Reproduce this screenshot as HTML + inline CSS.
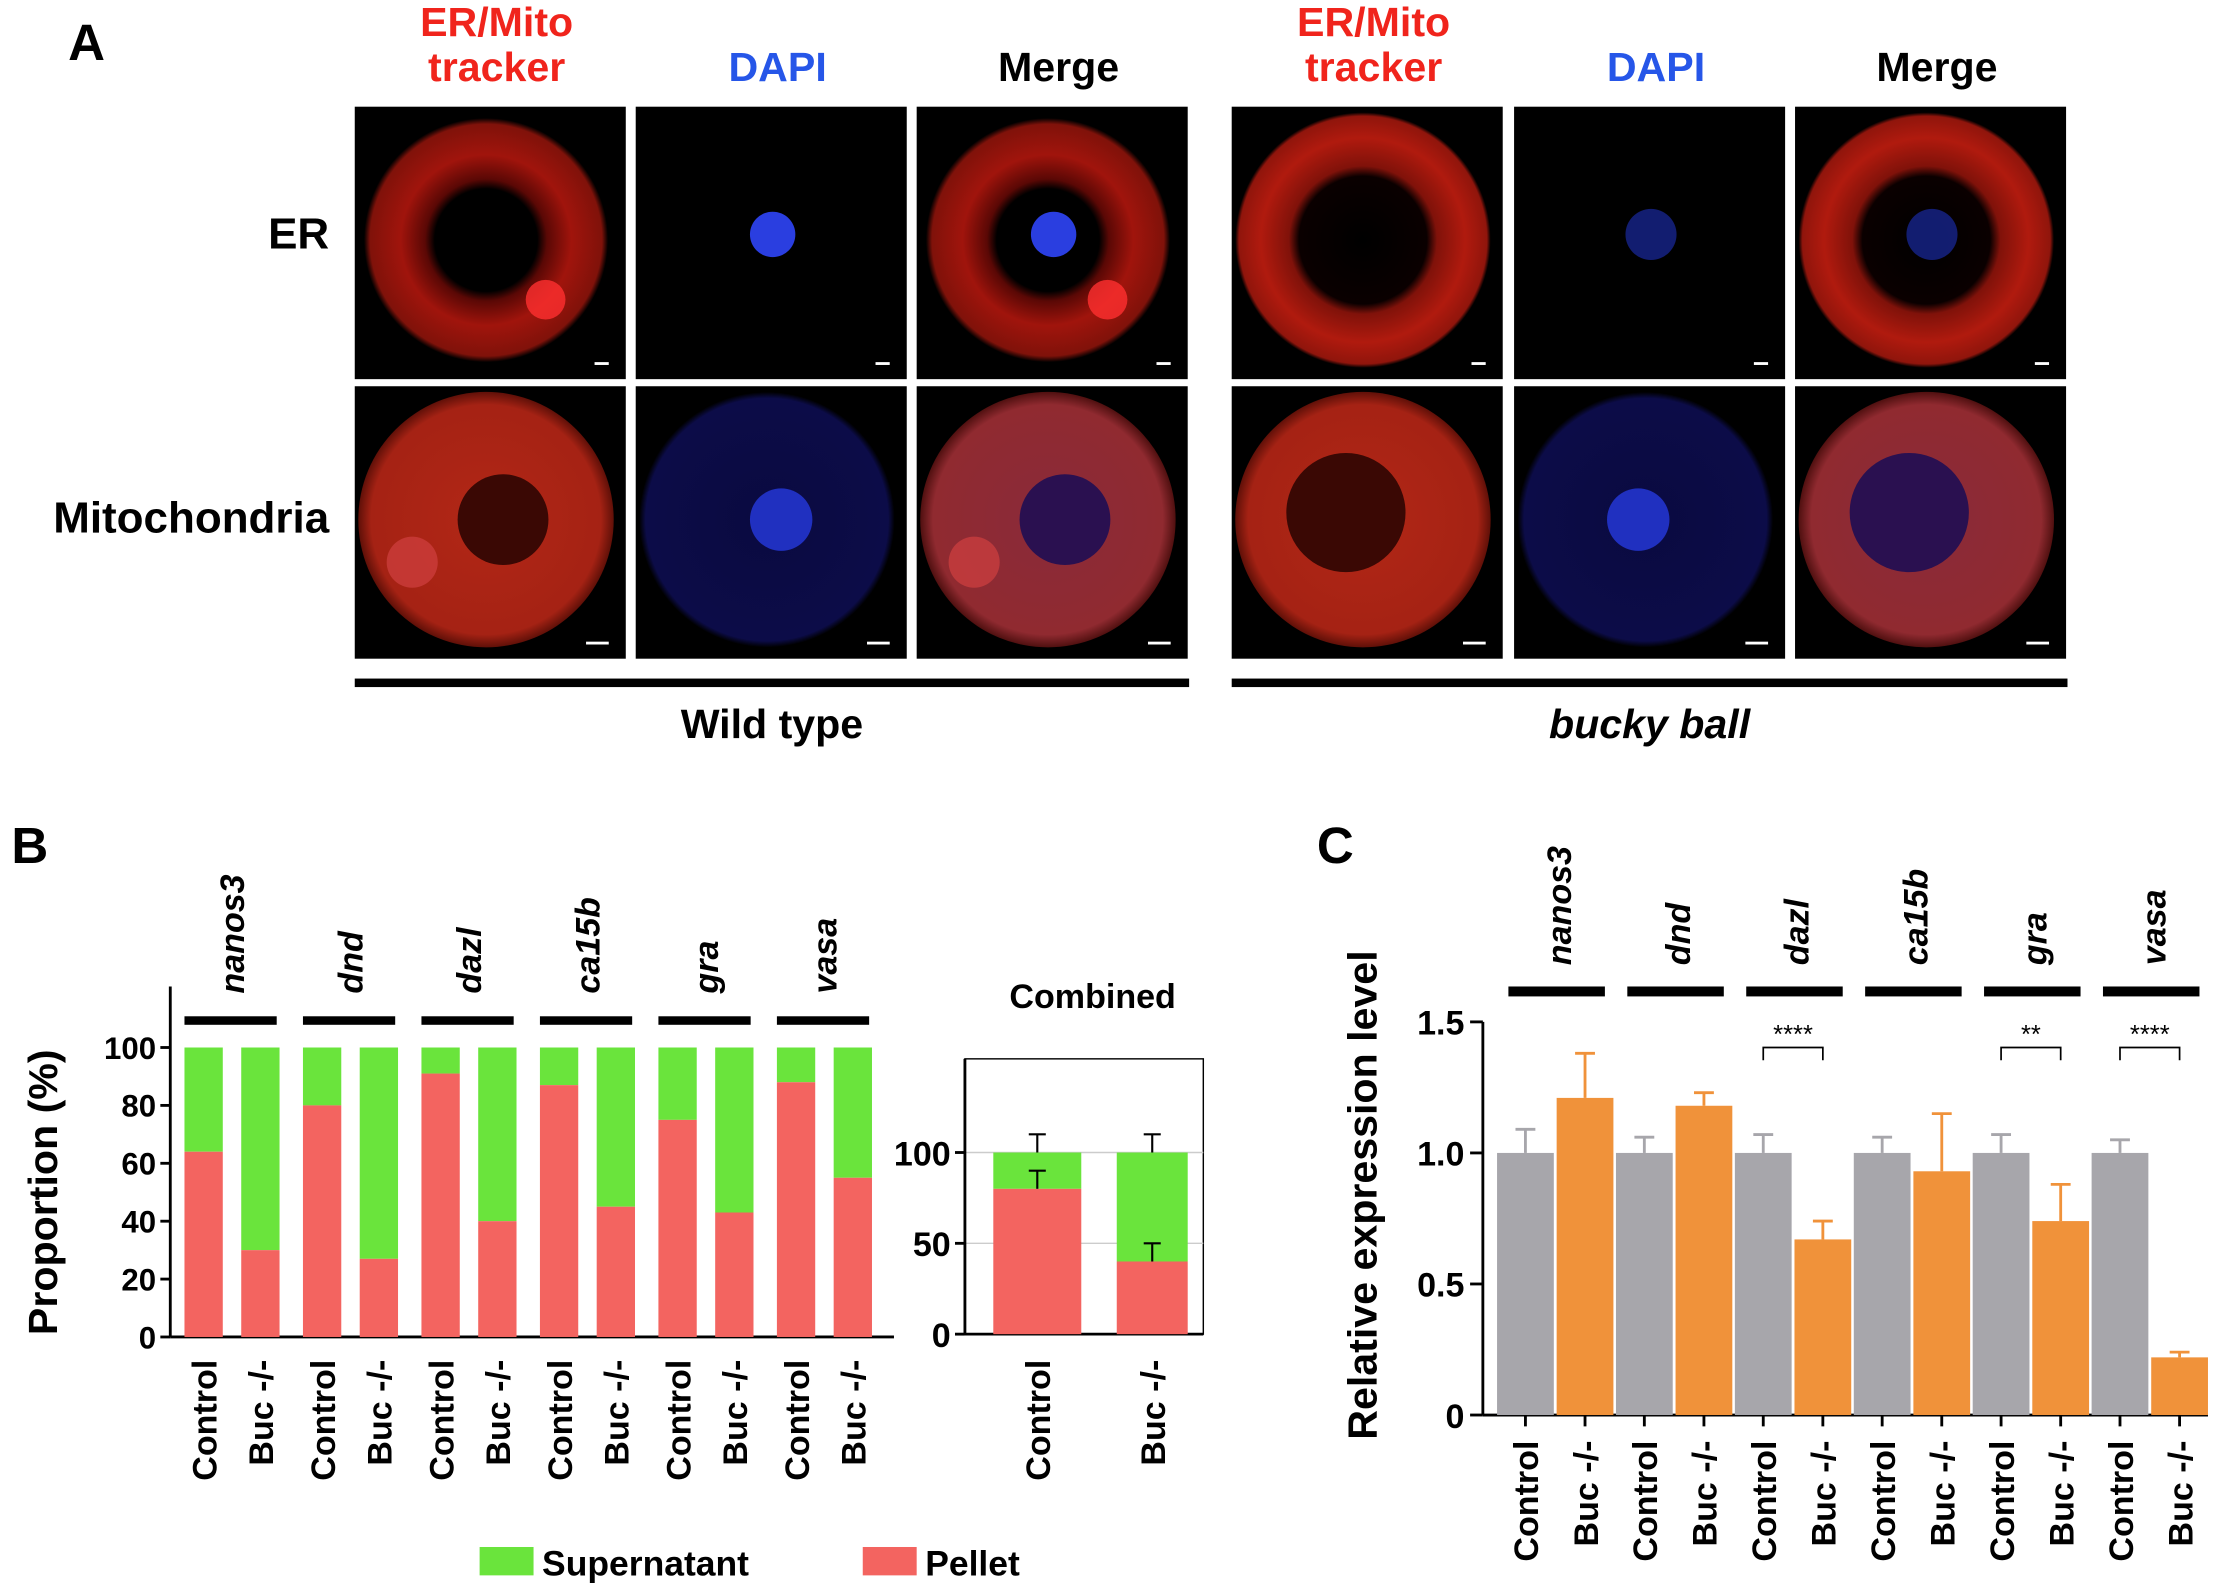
<!DOCTYPE html>
<html><head><meta charset="utf-8">
<style>
html,body{margin:0;padding:0;background:#fff;}
svg{display:block;font-family:"Liberation Sans",Arial,sans-serif;font-weight:bold;}
</style></head>
<body>
<svg id="fig" width="2225" height="1587" viewBox="0 0 1568 1118" xmlns="http://www.w3.org/2000/svg">
<defs>
<radialGradient id="erRing" cx="50%" cy="50%" r="50%">
<stop offset="0" stop-color="#000"/><stop offset="0.42" stop-color="#000"/><stop offset="0.5" stop-color="#5a0805"/><stop offset="0.7" stop-color="#a0140c"/><stop offset="0.95" stop-color="#80120a"/><stop offset="1" stop-color="#000"/>
</radialGradient>
<radialGradient id="erRing2" cx="50%" cy="50%" r="50%">
<stop offset="0" stop-color="#000"/><stop offset="0.5" stop-color="#0a0000"/><stop offset="0.58" stop-color="#80120a"/><stop offset="0.8" stop-color="#b01a0e"/><stop offset="0.97" stop-color="#90150c"/><stop offset="1" stop-color="#000"/>
</radialGradient>
<radialGradient id="mito" cx="50%" cy="50%" r="50%">
<stop offset="0" stop-color="#b22716"/><stop offset="0.9" stop-color="#a52214"/><stop offset="1" stop-color="#601008"/>
</radialGradient>
<radialGradient id="dapiFaint" cx="50%" cy="50%" r="50%">
<stop offset="0" stop-color="#0a0a40"/><stop offset="0.95" stop-color="#0c0c48"/><stop offset="1" stop-color="#000"/>
</radialGradient>
<radialGradient id="merge" cx="50%" cy="50%" r="50%">
<stop offset="0" stop-color="#8a2a3a"/><stop offset="0.9" stop-color="#902a30"/><stop offset="1" stop-color="#501010"/>
</radialGradient>
</defs>

<text x="48" y="42" font-size="36">A</text>
<g id="panelA"></g>

<text x="8" y="608" font-size="36">B</text>
<g id="panelB"></g>
<text x="928" y="608" font-size="36">C</text>
<g id="panelC"></g>
</svg>
<script>
// ---- Panel B data ----
const genesB = ["nanos3","dnd","dazl","ca15b","gra","vasa"];
const pelletControl = [64, 80, 91, 87, 75, 88];
const pelletBuc = [30, 27, 40, 45, 43, 55];
const ticksB = [0,20,40,60,80,100];
const combinedPellet = [80, 40];
const combinedPelletErr = [90, 50];
const combinedTotalErr = [110, 110];
const ticksComb = [0,50,100];
const groupLabels = ["Control","Buc -/-"];
// ---- Panel C data ----
const genesC = ["nanos3","dnd","dazl","ca15b","gra","vasa"];
const exprControl = [1.0,1.0,1.0,1.0,1.0,1.0];
const exprControlErr = [1.09,1.06,1.07,1.06,1.07,1.05];
const exprBuc = [1.21,1.18,0.67,0.93,0.74,0.22];
const exprBucErr = [1.38,1.23,0.74,1.15,0.88,0.24];
const sigLabels = ["","","****","","**","****"];
const ticksC = [0,0.5,1.0,1.5];

const NS="http://www.w3.org/2000/svg";
function mk(parent,tag,attrs,text){const e=document.createElementNS(NS,tag);for(const k in attrs)e.setAttribute(k,attrs[k]);if(text!==undefined)e.textContent=text;parent.appendChild(e);return e;}

// ---- Panel A ----
const A=document.getElementById('panelA');
const colsX=[250,448,646,868,1067,1265];
const rowsY=[75,272];
const hdr=[["ER/Mito","tracker","#f0241c"],["","DAPI","#2656e8"],["","Merge","#000"]];
for(let c=0;c<6;c++){
  const h=hdr[c%3]; const cx=colsX[c]+100;
  if(h[0]){const t=mk(A,'text',{x:cx,y:25,'font-size':29,'text-anchor':'middle',fill:h[2]},h[0]);}
  const t2=mk(A,'text',{x:cx,y:57,'font-size':29,'text-anchor':'middle',fill:h[2]},h[1]);
  
  
  for(let r=0;r<2;r++){
    const x=colsX[c],y=rowsY[r],w=191,hh=192;
    const g=mk(A,'g',{});
    
    
    mk(g,'rect',{x:x,y:y,width:w,height:hh,fill:'#000'});
    const cxx=x+w/2-3,cyy=y+hh/2-2;const kind=c%3;const mut=c>=3;
    if(r===0){
      if(kind!==1){mk(g,'circle',{cx:cxx,cy:cyy,r:mut?90:86,fill:mut?'url(#erRing2)':'url(#erRing)'});
        if(!mut) mk(g,'circle',{cx:cxx+42,cy:cyy+42,r:14,fill:'#ff3030',opacity:0.8});}
      if(kind!==0){mk(g,'circle',{cx:cxx+4,cy:cyy-4,r:mut?18:16,fill:mut?'#1a2aa0':'#2a3ee0',opacity:mut?0.7:1});}
    } else {
      if(kind===1){mk(g,'circle',{cx:cxx,cy:cyy,r:90,fill:'url(#dapiFaint)'});mk(g,'circle',{cx:cxx+(mut?-5:10),cy:cyy,r:22,fill:'#2030c0'});}
      else{mk(g,'circle',{cx:cxx,cy:cyy,r:90,fill:kind===2?'url(#merge)':'url(#mito)'});
        mk(g,'circle',{cx:cxx+(mut?-12:12),cy:cyy+(mut?-5:0),r:mut?42:32,fill:kind===2?'#2a1050':'#3a0804'});
        if(!mut) mk(g,'circle',{cx:cxx-52,cy:cyy+30,r:18,fill:'#d04040',opacity:0.7});}
    }
    mk(g,'rect',{x:x+w-(r===0?22:28),y:y+hh-12,width:r===0?10:16,height:2,fill:'#fff'});
  }
}
[["ER",232,175],["Mitochondria",232,375]].forEach(l=>{const t=mk(A,'text',{x:l[1],y:l[2],'font-size':31,'text-anchor':'end'},l[0]);});
[[250,838,"Wild type",""],[868,1457,"bucky ball","italic"]].forEach(l=>{
  const b=mk(A,'rect',{x:l[0],y:478,width:l[1]-l[0],height:6,fill:'#000'});
  const t=mk(A,'text',{x:(l[0]+l[1])/2,y:520,'font-size':29,'text-anchor':'middle','font-style':l[3]||'normal'},l[2]);});

// ---- Panel B ----
const B=document.getElementById('panelB');
const yB=v=>942-v*2.04;
const gX=i=>130+i*83.5;
const bw=27;
mk(B,'line',{x1:120,y1:yB(0),x2:120,y2:yB(100)-43,stroke:'#000','stroke-width':2});
mk(B,'line',{x1:120,y1:yB(0),x2:630,y2:yB(0),stroke:'#000','stroke-width':2});
ticksB.forEach(t=>{const y=yB(t);mk(B,'line',{x1:113,y1:y,x2:120,y2:y,stroke:'#000','stroke-width':2});
  const l=mk(B,'text',{x:110,y:y+8,'font-size':22,'text-anchor':'end'},t);});
const yt=mk(B,'text',{x:0,y:0,'font-size':29,'text-anchor':'middle',transform:`translate(40,840) rotate(-90)`},"Proportion (%)");

function stackBar(parent,x,w,val,yf,name){
  const s=mk(parent,'rect',{x:x,y:yf(100),width:w,height:yf(val)-yf(100),fill:'#6ae43c'});
  
  const p=mk(parent,'rect',{x:x,y:yf(val),width:w,height:yf(0)-yf(val),fill:'#f36460'});
  
}
function xLabel(parent,x,y,txt){const t=mk(parent,'text',{x:0,y:0,'font-size':24,'text-anchor':'end',transform:`translate(${x},${y}) rotate(-90)`},txt);
  }
genesB.forEach((g,i)=>{
  const x0=gX(i);
  stackBar(B,x0,bw,pelletControl[i],yB,'bar-control-'+g);
  stackBar(B,x0+40,bw,pelletBuc[i],yB,'bar-buc-'+g);
  xLabel(B,x0+bw/2+9,958,groupLabels[0]);xLabel(B,x0+40+bw/2+9,958,groupLabels[1]);
  const ln=mk(B,'rect',{x:x0,y:716,width:65,height:6,fill:'#000'});
  const t=mk(B,'text',{x:0,y:0,'font-size':24,'font-style':'italic',transform:`translate(${x0+42},700) rotate(-90)`},g);
  
});
// combined
const yC2=v=>940-v*1.28;
const fr=mk(B,'rect',{x:680,y:746,width:168,height:194,fill:'none',stroke:'#000','stroke-width':1});

mk(B,'line',{x1:680,y1:yC2(100),x2:848,y2:yC2(100),stroke:'#ccc','stroke-width':1});
mk(B,'line',{x1:680,y1:yC2(50),x2:848,y2:yC2(50),stroke:'#ccc','stroke-width':1});
mk(B,'line',{x1:680,y1:746,x2:680,y2:940,stroke:'#000','stroke-width':2});
mk(B,'line',{x1:680,y1:940,x2:848,y2:940,stroke:'#000','stroke-width':2});
ticksComb.forEach(t=>{const y=yC2(t);mk(B,'line',{x1:673,y1:y,x2:680,y2:y,stroke:'#000','stroke-width':2});
  const l=mk(B,'text',{x:670,y:y+9,'font-size':24,'text-anchor':'end'},t);});
const ct=mk(B,'text',{x:770,y:710,'font-size':24,'text-anchor':'middle'},"Combined");
[700,787].forEach((x,i)=>{
  stackBar(B,x,i?50:62,combinedPellet[i],yC2,'combined-bar-'+i);
  const cx=x+(i?25:31);
  [[100,combinedTotalErr[i]],[combinedPellet[i],combinedPelletErr[i]]].forEach(e=>{
    mk(B,'line',{x1:cx,y1:yC2(e[0]),x2:cx,y2:yC2(e[1]),stroke:'#000','stroke-width':1.5});
    mk(B,'line',{x1:cx-6,y1:yC2(e[1]),x2:cx+6,y2:yC2(e[1]),stroke:'#000','stroke-width':1.5});});
  xLabel(B,cx+9,958,groupLabels[i]);
});
// legend
[[338,"#6ae43c","Supernatant"],[608,"#f36460","Pellet"]].forEach(l=>{
  const r=mk(B,'rect',{x:l[0],y:1090,width:38,height:20,fill:l[1]});
  const t=mk(B,'text',{x:l[0]+44,y:1110,'font-size':25},l[2]);});

// ---- Panel C ----
const C=document.getElementById('panelC');
const yCc=v=>997-v*184.7;
const cX=i=>1055+i*83.8;
const cw=40;
mk(C,'line',{x1:1045,y1:yCc(0),x2:1045,y2:yCc(1.5),stroke:'#000','stroke-width':2});
mk(C,'line',{x1:1045,y1:yCc(0),x2:1556,y2:yCc(0),stroke:'#000','stroke-width':2});
ticksC.forEach(t=>{const y=yCc(t);mk(C,'line',{x1:1036,y1:y,x2:1045,y2:y,stroke:'#000','stroke-width':2});
  const l=mk(C,'text',{x:1032,y:y+9,'font-size':24,'text-anchor':'end'},t===0?'0':t.toFixed(1));});
const yt2=mk(C,'text',{x:0,y:0,'font-size':29,'text-anchor':'middle',transform:`translate(970,842) rotate(-90)`},"Relative expression level");

function barC(x,v,e,col,name){
  const r=mk(C,'rect',{x:x,y:yCc(v),width:cw,height:yCc(0)-yCc(v),fill:col});
  
  const cx=x+cw/2;
  mk(C,'line',{x1:cx,y1:yCc(v),x2:cx,y2:yCc(e),stroke:col,'stroke-width':2});
  mk(C,'line',{x1:cx-7,y1:yCc(e),x2:cx+7,y2:yCc(e),stroke:col,'stroke-width':2});
  mk(C,'line',{x1:cx,y1:yCc(0),x2:cx,y2:yCc(0)+8,stroke:'#000','stroke-width':2});
}
genesC.forEach((g,i)=>{
  const x0=cX(i);
  barC(x0,exprControl[i],exprControlErr[i],'#a7a6ab','bar-control-'+g);
  barC(x0+42,exprBuc[i],exprBucErr[i],'#f0923a','bar-buc-'+g);
  xLabel(C,x0+cw/2+9,1015,groupLabels[0]);xLabel(C,x0+42+cw/2+9,1015,groupLabels[1]);
  const ln=mk(C,'rect',{x:x0+8,y:695,width:68,height:7,fill:'#000'});
  const t=mk(C,'text',{x:0,y:0,'font-size':24,'font-style':'italic',transform:`translate(${x0+52},680) rotate(-90)`},g);
  
  if(sigLabels[i]){
    const b=mk(C,'path',{d:`M${x0+20},747 V738 H${x0+62} V747`,fill:'none',stroke:'#000','stroke-width':1.2});
    
    const s=mk(C,'text',{x:x0+41,y:735,'font-size':18,'text-anchor':'middle','font-weight':'normal'},sigLabels[i]);
    
  }
});
</script>
</body></html>
